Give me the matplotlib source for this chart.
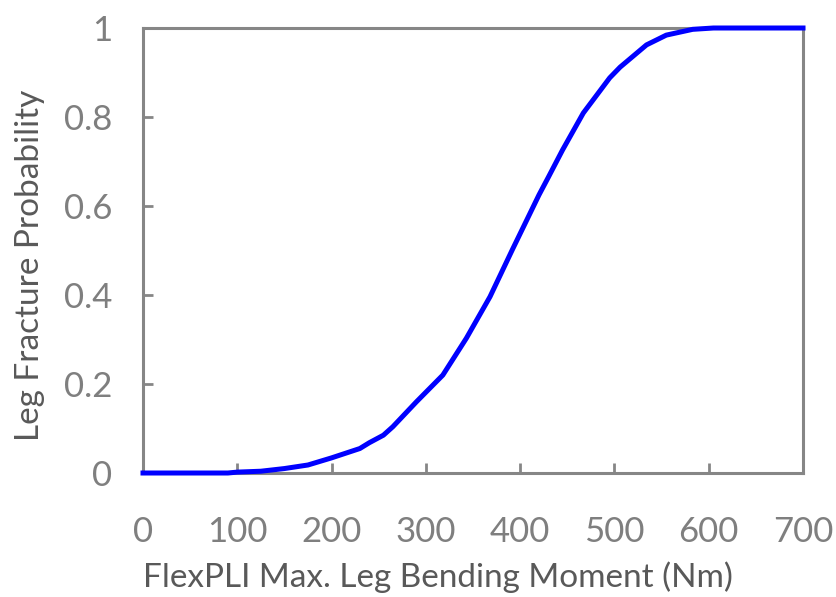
import numpy as np
import matplotlib
matplotlib.use("Agg")
import matplotlib.pyplot as plt

plt.rcParams['font.family'] = ['Lato', 'DejaVu Sans']

# bending moment (Nm) vs fracture probability
moment = [0, 50, 90, 100, 125, 150, 175, 200, 230, 240, 255, 265, 290, 318,
          343, 368, 392, 420, 430, 445, 467, 495, 506, 534, 555, 583, 605, 700]
prob = [0, 0, 0, 0.002, 0.004, 0.01, 0.018, 0.034, 0.055, 0.068, 0.085, 0.104,
        0.16, 0.22, 0.303, 0.396, 0.503, 0.625, 0.665, 0.726, 0.809, 0.888,
        0.912, 0.962, 0.984, 0.997, 1.0, 1.0]

xticks = [0, 100, 200, 300, 400, 500, 600, 700]
yticks = [0, 0.2, 0.4, 0.6, 0.8, 1]
ytick_labels = ['0', '0.2', '0.4', '0.6', '0.8', '1']

axis_grey = '#868686'
tick_grey = '#7f7f7f'
label_grey = '#595959'

fig = plt.figure(figsize=(8.36, 5.97), dpi=100)
ax = fig.add_axes([143/836, 1 - 473/597, 660/836, 445/597])

ax.plot(moment, prob, color='#0000ff', lw=3.6, solid_joinstyle='round', clip_on=False, zorder=3)

ax.set_xlim(0, 700)
ax.set_ylim(0, 1)
ax.set_xticks(xticks)
ax.set_yticks(yticks)
ax.set_yticklabels(ytick_labels)

for s in ax.spines.values():
    s.set_color(axis_grey)
    s.set_linewidth(2.2)

ax.tick_params(direction='in', length=7, width=2, color=axis_grey,
               labelcolor=tick_grey, labelsize=25)
ax.tick_params(axis='x', pad=31)
ax.tick_params(axis='y', pad=22)

# axis titles placed in figure coords
fig.text(438/836, 1 - 587/597, 'FlexPLI Max. Leg Bending Moment (Nm)', fontsize=24,
         color=label_grey, ha='center', va='baseline')
fig.text(30/836, 1 - 265/597, 'Leg Fracture Probability', fontsize=24,
         color=label_grey, ha='center', va='center', rotation=90)

plt.savefig('out.png', dpi=100)
